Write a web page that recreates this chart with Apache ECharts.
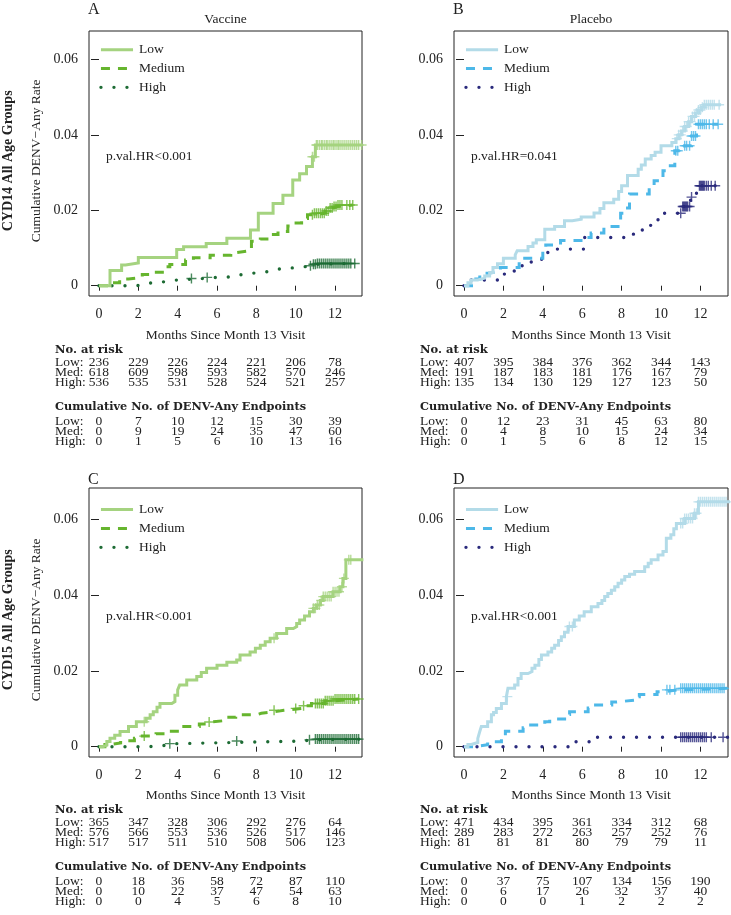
<!DOCTYPE html>
<html><head><meta charset="utf-8">
<script src="https://cdn.jsdelivr.net/npm/echarts@6/dist/echarts.min.js"></script>
<style>html,body{margin:0;padding:0;background:#ffffff}#main{width:731px;height:915px}</style>
</head><body><div id="main"></div>
<script>
// ---------- tick labels / categories ----------
const monthTicks = [0, 2, 4, 6, 8, 10, 12];
const rateTicks = [0, 0.02, 0.04, 0.06];
const rateTickLabels = ['0', '0.02', '0.04', '0.06'];
const groupNames = ['Low', 'Medium', 'High'];
const rowLabels = ['Low:', 'Med:', 'High:'];
const panelLetters = ['A', 'B', 'C', 'D'];
const armTitles = ['Vaccine', 'Placebo'];
const rowTitles = ['CYD14 All Age Groups', 'CYD15 All Age Groups'];
const pValues = ['p.val.HR<0.001', 'p.val.HR=0.041', 'p.val.HR<0.001', 'p.val.HR<0.001'];

// ---------- KM step curves [month, cumulative rate] ----------
const aLow = [[0,0],[0.56,0.004],[1.15,0.0055],[1.35,0.006],[2.0,0.0075],[3.95,0.0096],[4.3,0.0103],[5.45,0.0112],[6.5,0.0126],[7.7,0.0148],[8.1,0.0192],[8.85,0.0218],[9.35,0.024],[9.85,0.028],[10.2,0.0297],[10.55,0.0316],[10.85,0.0342],[11.0,0.0373],[13.4,0.0373]];
const aMed = [[0,0],[0.6,0.0008],[1.05,0.0018],[1.5,0.0022],[2.2,0.003],[2.55,0.0036],[3.3,0.005],[3.6,0.0056],[4.4,0.0068],[4.8,0.0074],[5.65,0.0081],[6.7,0.0088],[7.0,0.0093],[7.75,0.0118],[8.2,0.0124],[8.75,0.0136],[9.1,0.0144],[9.6,0.0158],[9.9,0.0166],[10.3,0.0178],[10.6,0.0188],[10.9,0.0192],[11.5,0.0198],[11.7,0.0206],[11.9,0.021],[12.1,0.0214],[12.9,0.0214]];
const aHigh = [[0,0],[1.9,0.0004],[2.5,0.0008],[2.65,0.0011],[3.5,0.0015],[3.95,0.0019],[5.3,0.0022],[6.0,0.0024],[6.9,0.0029],[7.2,0.0033],[7.8,0.0037],[8.5,0.004],[9.0,0.0045],[9.2,0.0049],[10.3,0.0053],[10.8,0.0057],[11.1,0.0059],[12.8,0.0059]];
const bLow = [[0,0],[0.2,0.0008],[0.36,0.0015],[0.7,0.002],[1.05,0.0026],[1.3,0.0035],[1.47,0.0048],[1.7,0.0058],[2.0,0.0073],[2.6,0.0082],[2.7,0.0093],[3.25,0.0104],[3.5,0.0113],[3.67,0.0122],[4.1,0.015],[4.6,0.0157],[5.1,0.0172],[5.5,0.0176],[5.95,0.0182],[6.6,0.0193],[6.9,0.0205],[7.1,0.022],[7.6,0.0229],[7.85,0.025],[8.0,0.0265],[8.3,0.0292],[8.84,0.0309],[9.0,0.032],[9.2,0.0336],[9.5,0.0345],[9.7,0.0354],[10.0,0.0371],[10.55,0.038],[10.75,0.039],[10.9,0.04],[11.05,0.041],[11.2,0.0422],[11.4,0.0435],[11.55,0.0449],[11.75,0.0458],[11.9,0.0466],[12.05,0.0473],[12.2,0.048],[13.05,0.048]];
const bMed = [[0,0],[0.6,0.0018],[0.8,0.0033],[1.25,0.0038],[1.85,0.0048],[2.8,0.0065],[2.95,0.0073],[4.0,0.0097],[4.15,0.0108],[4.9,0.012],[6.2,0.0128],[6.45,0.014],[7.1,0.0157],[7.95,0.0192],[8.15,0.0206],[8.4,0.0243],[9.4,0.0262],[9.65,0.0278],[10.1,0.0305],[10.3,0.0318],[10.7,0.0358],[11.2,0.0371],[11.55,0.0397],[11.8,0.0428],[12.9,0.0428]];
const bHigh = [[0,0],[0.3,0.0015],[2.05,0.0031],[2.55,0.0048],[2.95,0.0063],[3.5,0.007],[4.0,0.0088],[4.5,0.0097],[6.1,0.0128],[8.6,0.0145],[9.05,0.016],[9.55,0.0175],[9.95,0.0192],[11.1,0.021],[11.5,0.0235],[11.8,0.0265],[13.1,0.0265]];
const cLow = [[0,0],[0.2,0.0004],[0.4,0.0014],[0.56,0.0022],[0.8,0.003],[1.07,0.004],[1.5,0.0053],[1.9,0.0066],[2.4,0.0075],[2.6,0.0084],[2.76,0.0092],[2.95,0.0104],[3.1,0.0114],[3.7,0.0119],[3.86,0.0136],[4.0,0.015],[4.1,0.0163],[4.46,0.0176],[4.97,0.0185],[5.2,0.0196],[5.47,0.0207],[6.0,0.0215],[6.5,0.0223],[7.0,0.0229],[7.17,0.0242],[7.68,0.025],[7.95,0.026],[8.2,0.0268],[8.45,0.0277],[8.7,0.0286],[9.03,0.0299],[9.54,0.0312],[9.88,0.0317],[10.05,0.0325],[10.2,0.0334],[10.45,0.0345],[10.7,0.0356],[10.9,0.0365],[11.07,0.0374],[11.25,0.0386],[11.4,0.0396],[11.9,0.0409],[12.25,0.0422],[12.4,0.0444],[12.55,0.0493],[13.44,0.0493]];
const cMed = [[0,0],[0.3,0.0006],[0.6,0.001],[1.1,0.0016],[1.8,0.0022],[2.1,0.0028],[2.9,0.0034],[3.45,0.0041],[4.15,0.0053],[5.1,0.006],[5.5,0.0065],[5.7,0.007],[6.6,0.0078],[6.95,0.0084],[8.0,0.0088],[8.25,0.0092],[8.9,0.0096],[9.4,0.0101],[10.3,0.0108],[10.8,0.0114],[11.5,0.0121],[12.0,0.0126],[13.2,0.0126]];
const cHigh = [[0,0],[2.5,0.0004],[3.5,0.0008],[3.9,0.0011],[6.8,0.0015],[10.3,0.0018],[10.9,0.002],[13.3,0.002]];
const dLow = [[0,0],[0.2,0.0006],[0.37,0.0011],[0.7,0.0022],[0.8,0.004],[0.88,0.0053],[1.2,0.0066],[1.39,0.0084],[1.5,0.009],[1.64,0.0101],[1.9,0.0114],[2.15,0.0132],[2.23,0.0154],[2.57,0.0163],[2.74,0.018],[2.9,0.0193],[3.25,0.0198],[3.45,0.0207],[3.6,0.0215],[3.8,0.023],[3.93,0.0242],[4.26,0.025],[4.45,0.026],[4.6,0.0268],[4.8,0.028],[4.94,0.029],[5.1,0.0302],[5.28,0.0317],[5.6,0.0334],[5.85,0.0345],[6.1,0.0356],[6.46,0.0369],[6.8,0.0378],[7.0,0.0386],[7.14,0.0396],[7.3,0.0404],[7.48,0.0413],[7.65,0.0422],[7.82,0.0431],[8.0,0.044],[8.16,0.0449],[8.4,0.0455],[8.66,0.0462],[9.17,0.0475],[9.35,0.0484],[9.5,0.0493],[9.85,0.0506],[10.1,0.0515],[10.27,0.055],[10.5,0.0559],[10.65,0.0575],[10.78,0.0589],[11.2,0.0602],[11.7,0.0616],[11.9,0.0646],[13.5,0.0646]];
const dMed = [[0,0],[0.5,0.0005],[1.2,0.0013],[1.9,0.0025],[2.1,0.0041],[3.0,0.005],[3.25,0.0057],[4.1,0.0066],[4.35,0.0073],[5.2,0.0085],[5.36,0.0092],[6.3,0.0102],[6.6,0.011],[7.5,0.0118],[7.75,0.0123],[8.7,0.0132],[8.9,0.0138],[9.8,0.0145],[10.1,0.015],[10.9,0.0154],[13.45,0.0154]];
const dHigh = [[0,0],[5.3,0.0013],[6.6,0.0025],[13.5,0.0025]];

// ---------- censoring times (months) ----------
const aLowCens = [10.85,10.95,11.05,11.1,11.2,11.3,11.35,11.45,11.55,11.6,11.7,11.8,11.9,11.95,12.05,12.15,12.2,12.3,12.4,12.5,12.6,12.7,12.8,12.9,13.0,13.1,13.2,13.35];
const aMedCens = [10.85,10.95,11.05,11.15,11.25,11.35,11.45,11.55,11.65,11.75,11.85,11.95,12.05,12.15,12.25,12.35,12.6,12.75,12.9];
const aHighCens = [4.7,5.5,10.75,10.9,11.0,11.1,11.2,11.3,11.4,11.5,11.6,11.7,11.8,11.9,12.0,12.1,12.2,12.3,12.4,12.5,12.6,12.7,12.8,13.0];
const bLowCens = [10.8,10.9,11.0,11.1,11.2,11.3,11.4,11.5,11.6,11.7,11.8,11.9,12.0,12.1,12.2,12.3,12.4,12.5,12.6,12.7,12.95];
const bMedCens = [10.75,10.85,11.2,11.3,11.45,11.55,11.65,11.75,11.9,12.0,12.1,12.2,12.3,12.45,12.65,12.9];
const bHighCens = [11.0,11.1,11.15,11.2,11.25,11.3,11.35,11.45,11.55,11.95,12.0,12.05,12.1,12.15,12.2,12.3,12.4,12.55,12.75];
const cLowCens = [2.3,8.9,10.9,11.0,11.1,11.2,11.3,11.4,11.5,11.6,11.7,11.8,11.9,12.0,12.1,12.2,12.35,12.45,12.7,12.8,13.4];
const cMedCens = [2.3,5.6,8.9,10.0,10.4,11.0,11.1,11.2,11.3,11.4,11.5,11.6,11.7,11.8,11.9,12.0,12.1,12.2,12.3,12.4,12.5,12.6,12.7,12.8,12.9,13.0,13.2];
const cHighCens = [3.6,7.0,10.7,11.0,11.1,11.2,11.3,11.4,11.5,11.6,11.7,11.8,11.9,12.0,12.1,12.2,12.3,12.4,12.5,12.6,12.7,12.8,12.9,13.0,13.1,13.2,13.4];
const dLowCens = [2.2,5.35,5.5,11.0,11.1,11.2,11.3,11.4,11.5,11.6,11.7,11.8,11.9,12.0,12.1,12.2,12.3,12.4,12.5,12.6,12.7,12.8,12.9,13.0,13.1,13.2,13.3];
const dMedCens = [10.3,10.45,10.7,11.0,11.1,11.2,11.3,11.4,11.5,11.6,11.7,11.8,11.9,12.0,12.1,12.2,12.3,12.4,12.5,12.6,12.7,12.8,12.9,13.0,13.1,13.2,13.45];
const dHighCens = [11.0,11.1,11.2,11.3,11.4,11.5,11.6,11.7,11.8,11.9,12.0,12.1,12.2,12.3,12.55,13.15];

// ---------- number at risk ----------
const aRiskLow = [236,229,226,224,221,206,78];
const aRiskMed = [618,609,598,593,582,570,246];
const aRiskHigh = [536,535,531,528,524,521,257];
const bRiskLow = [407,395,384,376,362,344,143];
const bRiskMed = [191,187,183,181,176,167,79];
const bRiskHigh = [135,134,130,129,127,123,50];
const cRiskLow = [365,347,328,306,292,276,64];
const cRiskMed = [576,566,553,536,526,517,146];
const cRiskHigh = [517,517,511,510,508,506,123];
const dRiskLow = [471,434,395,361,334,312,68];
const dRiskMed = [289,283,272,263,257,252,76];
const dRiskHigh = [81,81,81,80,79,79,11];
// ---------- cumulative endpoints ----------
const aEvLow = [0,7,10,12,15,30,39];
const aEvMed = [0,9,19,24,35,47,60];
const aEvHigh = [0,1,5,6,10,13,16];
const bEvLow = [0,12,23,31,45,63,80];
const bEvMed = [0,4,8,10,15,24,34];
const bEvHigh = [0,1,5,6,8,12,15];
const cEvLow = [0,18,36,58,72,87,110];
const cEvMed = [0,10,22,37,47,54,63];
const cEvHigh = [0,0,4,5,6,8,10];
const dEvLow = [0,37,75,107,134,156,190];
const dEvMed = [0,6,17,26,32,37,40];
const dEvHigh = [0,0,0,1,2,2,2];

// ---------- styling / layout ----------
const FONT = 'Liberation Serif';
const BOLD = 'DejaVu Serif';
const vaccColors = ['#a5d380', '#66b52e', '#1d6b34'];
const placColors = ['#b3dbe8', '#4db8e8', '#2a2a7c'];
const panels = [
  {grid:{left:89,top:31,width:273,height:265}, x:[-0.508,13.37], y:[-0.00273,0.06754], colors:vaccColors,
   curves:[aLow,aMed,aHigh], cens:[aLowCens,aMedCens,aHighCens], risk:[aRiskLow,aRiskMed,aRiskHigh], ev:[aEvLow,aEvMed,aEvHigh],
   letterY:10, tabX:55, titleY:335, riskHeadY:350, riskY:[362.7,372.7,382.7], evHeadY:406.7, evY:[421.7,431.7,441.7]},
  {grid:{left:454,top:31,width:274,height:265}, x:[-0.508,13.4], y:[-0.00273,0.06754], colors:placColors,
   curves:[bLow,bMed,bHigh], cens:[bLowCens,bMedCens,bHighCens], risk:[bRiskLow,bRiskMed,bRiskHigh], ev:[bEvLow,bEvMed,bEvHigh],
   letterY:10, tabX:420, titleY:335, riskHeadY:350, riskY:[362.7,372.7,382.7], evHeadY:406.7, evY:[421.7,431.7,441.7]},
  {grid:{left:89,top:488,width:273,height:269}, x:[-0.508,13.37], y:[-0.00272,0.06826], colors:vaccColors,
   curves:[cLow,cMed,cHigh], cens:[cLowCens,cMedCens,cHighCens], risk:[cRiskLow,cRiskMed,cRiskHigh], ev:[cEvLow,cEvMed,cEvHigh],
   letterY:480, tabX:55, titleY:795, riskHeadY:810, riskY:[822.7,832.7,842.7], evHeadY:866.7, evY:[881.7,891.7,901.7]},
  {grid:{left:454,top:488,width:274,height:269}, x:[-0.508,13.4], y:[-0.00272,0.06826], colors:placColors,
   curves:[dLow,dMed,dHigh], cens:[dLowCens,dMedCens,dHighCens], risk:[dRiskLow,dRiskMed,dRiskHigh], ev:[dEvLow,dEvMed,dEvHigh],
   letterY:480, tabX:420, titleY:795, riskHeadY:810, riskY:[822.7,832.7,842.7], evHeadY:866.7, evY:[881.7,891.7,901.7]}
];
const lineStyles = [
  {width:3, type:'solid', cap:'butt'},
  {width:3, type:[9,8], cap:'butt'},
  {width:3.4, type:[0,13], cap:'round'}
];
const PLUS = 'path://M4.3,0H5.7V4.3H10V5.7H5.7V10H4.3V5.7H0V4.3H4.3Z';

function stepAt(steps, t) {
  let v = steps[0][1];
  for (const p of steps) { if (p[0] <= t) v = p[1]; else break; }
  return v;
}

const chart = echarts.init(document.getElementById('main'), null, {renderer:'canvas'});
const grids = [], xAxes = [], yAxes = [], series = [];
panels.forEach((p, i) => {
  grids.push(Object.assign({show:true, borderColor:'#222', borderWidth:1, backgroundColor:'transparent'}, p.grid));
  xAxes.push({type:'value', gridIndex:i, min:p.x[0], max:p.x[1],
    axisLine:{show:false}, splitLine:{show:false},
    axisTick:{show:true, customValues:monthTicks, length:5, lineStyle:{color:'#222'}},
    axisLabel:{customValues:monthTicks, margin:11, color:'#222', fontFamily:FONT, fontSize:14, formatter:v=>String(Math.round(v))}});
  yAxes.push({type:'value', gridIndex:i, min:p.y[0], max:p.y[1],
    axisLine:{show:false}, splitLine:{show:false},
    axisTick:{show:true, customValues:rateTicks, length:8, lineStyle:{color:'#222'}},
    axisLabel:{customValues:rateTicks, margin:11, color:'#222', fontFamily:FONT, fontSize:14,
      formatter:v=>{const k=rateTicks.findIndex(r=>Math.abs(r-v)<1e-9);return k>=0?rateTickLabels[k]:'';}}});
  p.curves.forEach((c, g) => {
    series.push({type:'line', name:groupNames[g], xAxisIndex:i, yAxisIndex:i, data:c, step:'end',
      showSymbol:false, symbol:'none', animation:false, z:3-g+2,
      lineStyle:Object.assign({color:p.colors[g], join:'miter'}, lineStyles[g])});
  });
  p.cens.forEach((cs, g) => {
    series.push({type:'scatter', xAxisIndex:i, yAxisIndex:i, animation:false, z:6,
      symbol:PLUS, symbolSize:[10,10], itemStyle:{color:p.colors[g]},
      data:cs.map(t=>[t, stepAt(p.curves[g], t)])});
  });
});
chart.setOption({backgroundColor:'#ffffff', animation:false, grid:grids, xAxis:xAxes, yAxis:yAxes, series:series});

// ---------- annotation text placed through the axes' scales ----------
const gfx = [];
function txt(x, y, s, o) {
  gfx.push({type:'text', x:x, y:y, rotation:(o&&o.rot)||0, z:10,
    style:{text:s, fontFamily:(o&&o.ff)||FONT, fontSize:(o&&o.fs)||13, fontWeight:(o&&o.fw)||'normal',
      fill:(o&&o.fill)||'#222', align:(o&&o.align)||'left', verticalAlign:'middle'}});
}
panels.forEach((p, i) => {
  const px = (t, v) => chart.convertToPixel({gridIndex:i}, [t, v]);
  const left = p.grid.left, cx = p.grid.left + p.grid.width/2;
  txt(left - 1, p.letterY, panelLetters[i], {fs:16});
  if (i < 2) txt(cx, 19, armTitles[i], {align:'center', fs:13.5});
  // legend
  const legY = [0.0626, 0.0576, 0.0526];
  groupNames.forEach((gname, g) => {
    const a = px(0.1, legY[g]), b = px(1.73, legY[g]), tpos = px(2.03, legY[g]);
    const ls = lineStyles[g];
    gfx.push({type:'line', z:10, shape:{x1:a[0], y1:a[1], x2:b[0], y2:b[1]},
      style:{stroke:p.colors[g], lineWidth:ls.width, lineDash:ls.type==='solid'?null:ls.type, lineCap:ls.cap}});
    txt(tpos[0], tpos[1], gname, {fs:13.5});
  });
  const pv = px(0.35, 0.0343);
  txt(pv[0], pv[1], pValues[i], {fs:13.5});
  // x-axis title
  txt(cx, p.titleY, 'Months Since Month 13 Visit', {align:'center', fs:13.5});
  // tables
  txt(p.tabX, p.riskHeadY, 'No. at risk', {ff:BOLD, fw:'bold', fs:11.5});
  txt(p.tabX, p.evHeadY, 'Cumulative No. of DENV-Any Endpoints', {ff:BOLD, fw:'bold', fs:11.3});
  rowLabels.forEach((rl, g) => {
    txt(p.tabX, p.riskY[g], rl, {fs:13.5});
    txt(p.tabX, p.evY[g], rl, {fs:13.5});
    monthTicks.forEach((m, k) => {
      const xx = px(m, 0)[0];
      txt(xx, p.riskY[g], String(p.risk[g][k]), {align:'center', fs:13.5});
      txt(xx, p.evY[g], String(p.ev[g][k]), {align:'center', fs:13.5});
    });
  });
});
// row titles and y-axis names (left column only)
[0, 2].forEach((i, r) => {
  const p = panels[i];
  const cy = p.grid.top + p.grid.height * 0.49;
  txt(8, cy, rowTitles[r], {rot:Math.PI/2, align:'center', ff:FONT, fw:'bold', fs:14});
  txt(36, cy, 'Cumulative DENV\u2212Any Rate', {rot:Math.PI/2, align:'center', fs:13.5});
});
chart.setOption({graphic:{elements:gfx}});
</script>
</body></html>
